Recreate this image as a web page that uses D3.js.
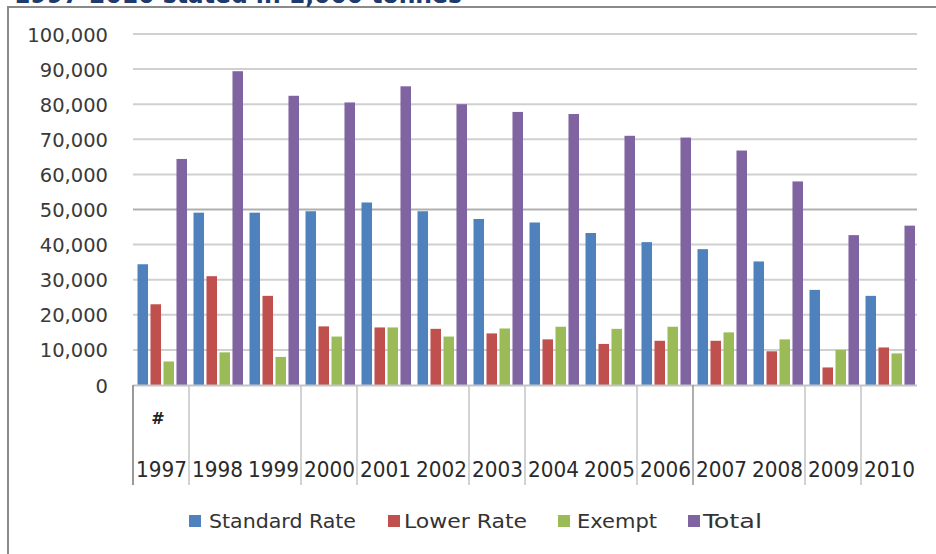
<!DOCTYPE html>
<html>
<head>
<meta charset="utf-8">
<script src="https://cdn.jsdelivr.net/npm/d3@7"></script>
<style>
    html, body { margin: 0; padding: 0; background: #fff; }
    svg { display: block; }
</style>
</head>
<body>
<svg id="main-svg" width="936" height="554"></svg>
<script>
// data (1,000 tonnes)
let YEARS = ['1997', '1998', '1999', '2000', '2001', '2002', '2003', '2004', '2005', '2006', '2007', '2008', '2009', '2010'];
let SERIES = ['Standard Rate', 'Lower Rate', 'Exempt', 'Total'];
let STANDARD_RATE = [34400, 49100, 49100, 49500, 52000, 49500, 47300, 46300, 43300, 40700, 38700, 35200, 27100, 25400];
let LOWER_RATE = [23000, 31000, 25400, 16700, 16400, 16000, 14700, 13000, 11700, 12600, 12600, 9600, 5000, 10700];
let EXEMPT = [6700, 9300, 8000, 13800, 16400, 13800, 16100, 16600, 16000, 16600, 15000, 13000, 10000, 9000];
let TOTAL = [64400, 89400, 82400, 80500, 85100, 80000, 77800, 77200, 71000, 70500, 66800, 58000, 42700, 45400];
let Y_TICKS = [0, 10000, 20000, 30000, 40000, 50000, 60000, 70000, 80000, 90000, 100000];
// the category axis only shows some of its dividers
let DIVIDER_AT = [0, 1, 3, 4, 6, 7, 9, 10, 12, 13];

let TITLE = '1997-2010 stated in 1,000 tonnes';
let COLORS = ['#4f81bd', '#c0504d', '#9bbb59', '#8064a2'];

// legend layout: square x, text x, text width
let LEGEND_LAYOUT = [
    { sx: 189, tx: 209, tw: 147 },
    { sx: 388, tx: 404, tw: 123 },
    { sx: 558, tx: 577, tw: 80 },
    { sx: 688, tx: 703, tw: 59 }
];

let PLOT = { left: 133, right: 917, top: 34, bottom: 385 };

let svg = d3.select('#main-svg');
let values = [STANDARD_RATE, LOWER_RATE, EXEMPT, TOTAL];

// frame around the chart area (right edge runs off the picture)
svg.append('path')
    .attr('d', 'M8,554 V7 H936')
    .attr('fill', 'none')
    .attr('stroke', '#8a8a8a')
    .attr('stroke-width', 2);

// title, mostly cut off by the top edge as in the source
svg.append('text')
    .attr('x', 14)
    .attr('y', 3)
    .attr('textLength', 448)
    .attr('lengthAdjust', 'spacingAndGlyphs')
    .attr('font-family', 'DejaVu Sans')
    .attr('font-weight', 'bold')
    .attr('font-size', 24)
    .attr('fill', '#1f3a6e')
    .text(TITLE);

let x0 = d3.scaleBand().domain(YEARS).range([PLOT.left, PLOT.right]).padding(0);
let x1 = d3.scaleBand().domain(SERIES).range([4.5, 54]).paddingInner(0.19).paddingOuter(0);
let y = d3.scaleLinear().domain([0, 100000]).range([PLOT.bottom, PLOT.top]);

// gridlines
svg.append('g').selectAll('line').data(Y_TICKS.filter(t => t > 0)).enter().append('line')
    .attr('x1', PLOT.left)
    .attr('x2', PLOT.right)
    .attr('y1', t => y(t))
    .attr('y2', t => y(t))
    .attr('stroke', t => t === 50000 ? '#b0b0b0' : '#d0d0d0')
    .attr('stroke-width', 2);

// y axis labels
let yAxis = d3.axisLeft(y).tickValues(Y_TICKS).tickSize(0).tickPadding(0)
    .tickFormat(d3.format(','));
let yg = svg.append('g').attr('transform', `translate(108,0)`).call(yAxis);
yg.select('.domain').remove();
yg.selectAll('text')
    .attr('font-family', 'DejaVu Sans')
    .attr('font-size', 19.5)
    .attr('fill', '#3a3a3a')
    .attr('dy', '0.36em');

// bars
let rows = [];
YEARS.forEach((year, i) => {
    SERIES.forEach((s, j) => {
        rows.push({ year: year, series: s, value: values[j][i], color: COLORS[j] });
    });
});
svg.append('g').selectAll('rect').data(rows).enter().append('rect')
    .attr('x', d => x0(d.year) + x1(d.series))
    .attr('y', d => y(d.value))
    .attr('width', x1.bandwidth())
    .attr('height', d => y(0) - y(d.value))
    .attr('fill', d => d.color);

// category axis line
svg.append('line')
    .attr('x1', PLOT.left).attr('x2', PLOT.right)
    .attr('y1', PLOT.bottom + 0.5).attr('y2', PLOT.bottom + 0.5)
    .attr('stroke', '#c4c4c4')
    .attr('stroke-width', 2);

// category dividers
svg.append('g').selectAll('line').data(DIVIDER_AT).enter().append('line')
    .attr('x1', i => x0(YEARS[i]))
    .attr('x2', i => x0(YEARS[i]))
    .attr('y1', PLOT.bottom)
    .attr('y2', 485)
    .attr('stroke', i => (i === 0 || i === 10) ? '#9a9a9a' : '#c8c8c8')
    .attr('stroke-width', i => i === 0 ? 2 : 1.6);

// "#" marker under the first category
svg.append('text')
    .attr('x', x0(YEARS[0]) + x0.bandwidth() / 2 - 3)
    .attr('y', 424)
    .attr('text-anchor', 'middle')
    .attr('font-family', 'DejaVu Sans')
    .attr('font-weight', 'bold')
    .attr('font-size', 16)
    .attr('fill', '#222')
    .text('#');

// year labels, squeezed into their category
svg.append('g').selectAll('text').data(YEARS).enter().append('text')
    .attr('x', year => x0(year) + 3)
    .attr('y', 477)
    .attr('textLength', 51)
    .attr('lengthAdjust', 'spacingAndGlyphs')
    .attr('font-family', 'DejaVu Sans Condensed, DejaVu Sans')
    .attr('font-size', 22)
    .attr('fill', '#2a2a2a')
    .text(year => year);

// legend
let legend = svg.append('g').selectAll('g').data(SERIES).enter().append('g');
legend.append('rect')
    .attr('x', (s, i) => LEGEND_LAYOUT[i].sx)
    .attr('y', 515)
    .attr('width', 12)
    .attr('height', 12)
    .attr('fill', (s, i) => COLORS[i]);
legend.append('text')
    .attr('x', (s, i) => LEGEND_LAYOUT[i].tx)
    .attr('y', 528)
    .attr('textLength', (s, i) => LEGEND_LAYOUT[i].tw)
    .attr('lengthAdjust', 'spacingAndGlyphs')
    .attr('font-family', 'DejaVu Sans Condensed, DejaVu Sans')
    .attr('font-size', 20)
    .attr('fill', '#333')
    .text(s => s);
</script>
</body>
</html>
